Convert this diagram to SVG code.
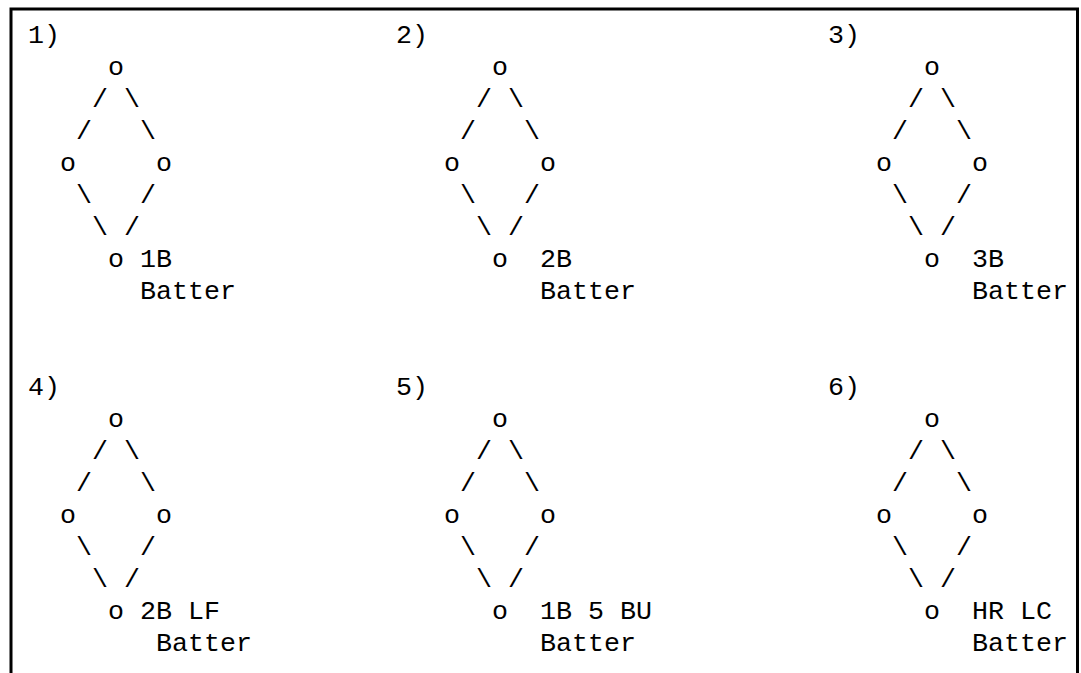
<svg xmlns="http://www.w3.org/2000/svg" width="1081" height="673" viewBox="0 0 1081 673">
<style>
text{font-family:"Liberation Mono","Courier New",monospace;font-size:26.67px;fill:#000;white-space:pre}
.frame{fill:none;stroke:#000;stroke-width:3}
</style>
<rect width="1081" height="673" fill="#fff"/>
<path class="frame" d="M11,673 V9 H1077.5 V673"/>
<g id="connectors"></g>
<g id="diagram1" xml:space="preserve">
<text x="28" y="43">1)</text>
<text x="108" y="75">o</text>
<text x="92" y="107">/ \</text>
<text x="76" y="139">/   \</text>
<text x="60" y="171">o     o</text>
<text x="76" y="203">\   /</text>
<text x="92" y="235">\ /</text>
<text x="108" y="267">o 1B</text>
<text x="140" y="299">Batter</text>
</g>
<g id="diagram2" xml:space="preserve">
<text x="396" y="43">2)</text>
<text x="492" y="75">o</text>
<text x="476" y="107">/ \</text>
<text x="460" y="139">/   \</text>
<text x="444" y="171">o     o</text>
<text x="460" y="203">\   /</text>
<text x="476" y="235">\ /</text>
<text x="492" y="267">o  2B</text>
<text x="540" y="299">Batter</text>
</g>
<g id="diagram3" xml:space="preserve">
<text x="828" y="43">3)</text>
<text x="924" y="75">o</text>
<text x="908" y="107">/ \</text>
<text x="892" y="139">/   \</text>
<text x="876" y="171">o     o</text>
<text x="892" y="203">\   /</text>
<text x="908" y="235">\ /</text>
<text x="924" y="267">o  3B</text>
<text x="972" y="299">Batter</text>
</g>
<g id="diagram4" xml:space="preserve">
<text x="28" y="395">4)</text>
<text x="108" y="427">o</text>
<text x="92" y="459">/ \</text>
<text x="76" y="491">/   \</text>
<text x="60" y="523">o     o</text>
<text x="76" y="555">\   /</text>
<text x="92" y="587">\ /</text>
<text x="108" y="619">o 2B LF</text>
<text x="156" y="651">Batter</text>
</g>
<g id="diagram5" xml:space="preserve">
<text x="396" y="395">5)</text>
<text x="492" y="427">o</text>
<text x="476" y="459">/ \</text>
<text x="460" y="491">/   \</text>
<text x="444" y="523">o     o</text>
<text x="460" y="555">\   /</text>
<text x="476" y="587">\ /</text>
<text x="492" y="619">o  1B 5 BU</text>
<text x="540" y="651">Batter</text>
</g>
<g id="diagram6" xml:space="preserve">
<text x="828" y="395">6)</text>
<text x="924" y="427">o</text>
<text x="908" y="459">/ \</text>
<text x="892" y="491">/   \</text>
<text x="876" y="523">o     o</text>
<text x="892" y="555">\   /</text>
<text x="908" y="587">\ /</text>
<text x="924" y="619">o  HR LC</text>
<text x="972" y="651">Batter</text>
</g>
</svg>
